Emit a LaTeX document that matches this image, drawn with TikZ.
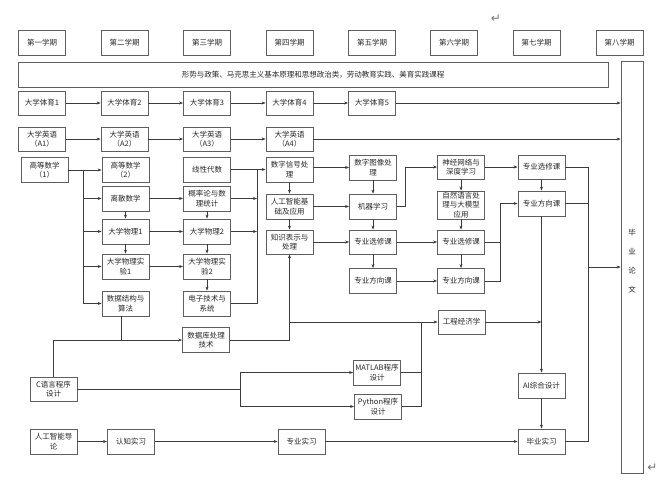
\documentclass[tikz,border=0pt]{standalone}
\usepackage{fontspec}
\newfontfamily\cjk{Noto Sans CJK SC}
\newfontfamily\symb{DejaVu Sans}
\usetikzlibrary{arrows.meta}
\definecolor{boxc}{HTML}{5E5E5E}
\definecolor{linec}{HTML}{3C3C3C}
\begin{document}
\begin{tikzpicture}[x=1pt,y=-1pt,
  box/.style={draw=boxc, line width=0.8pt, align=center, inner sep=0pt,
    minimum width=47pt, minimum height=25pt,
    font=\cjk\fontsize{7.5}{9.5}\selectfont, text=black!85},
  ln/.style={draw=linec, line width=0.6pt},
  ar/.style={ln, -{Stealth[length=4pt,width=3pt]}},
  retmark/.style={font=\symb\fontsize{12}{12}\selectfont, text=black!55, inner sep=0pt},
]
\useasboundingbox (0,0) rectangle (660,483);

% semesters
\node[box] (s1) at (42,42.5) {第一学期};
\node[box] (s2) at (124.5,42.5) {第二学期};
\node[box] (s3) at (207,42.5) {第三学期};
\node[box] (s4) at (289.5,42.5) {第四学期};
\node[box] (s5) at (372,42.5) {第五学期};
\node[box] (s6) at (454,42.5) {第六学期};
\node[box] (s7) at (536.5,42.5) {第七学期};
\node[box] (s8) at (619.5,42.5) {第八学期};

\node[box, minimum width=590pt] (pol) at (313,74.5) {形势与政策、马克思主义基本原理和思想政治类，劳动教育实践、美育实践课程};
\node[box, minimum width=22pt, minimum height=412pt] (thesis) at (632,267) {};
\node[font=\cjk\fontsize{7.5}{19}\selectfont, align=center, inner sep=0pt, text=black!85] (thesistxt) at (632,261) {毕\\业\\论\\文};

% PE
\node[box, minimum height=24pt] (pe1) at (42,103) {大学体育1};
\node[box, minimum height=24pt] (pe2) at (124.5,103) {大学体育2};
\node[box, minimum height=24pt] (pe3) at (207,103) {大学体育3};
\node[box, minimum height=24pt] (pe4) at (289.5,103) {大学体育4};
\node[box, minimum height=24pt] (pe5) at (372,103) {大学体育5};
% English
\node[box, minimum height=24pt] (en1) at (42,139) {大学英语\\（A1）};
\node[box, minimum height=24pt] (en2) at (124.5,139) {大学英语\\（A2）};
\node[box, minimum height=24pt] (en3) at (207,139) {大学英语\\（A3）};
\node[box, minimum height=24pt] (en4) at (289.5,139) {大学英语\\（A4）};

% column 1-2
\node[box] (m1) at (44.5,170) {高等数学\\（1）};
\node[box] (m2) at (125.5,170) {高等数学\\（2）};
\node[box] (disc) at (125.5,198.5) {离散数学};
\node[box] (phy1) at (125.5,231.5) {大学物理1};
\node[box] (lab1) at (125.5,266.5) {大学物理实\\验1};
\node[box] (ds) at (125.5,303.5) {数据结构与\\算法};
% column 3
\node[box] (la) at (207,169.5) {线性代数};
\node[box] (prob) at (207,198.5) {概率论与数\\理统计};
\node[box] (phy2) at (207,231.5) {大学物理2};
\node[box] (lab2) at (207,266.5) {大学物理实\\验2};
\node[box] (elec) at (207,303.5) {电子技术与\\系统};
% column 4
\node[box] (dsp) at (289.5,169.5) {数字信号处\\理};
\node[box] (aifund) at (289.5,206.5) {人工智能基\\础及应用};
\node[box, minimum height=24pt] (kr) at (289.5,242) {知识表示与\\处理};
% column 5
\node[box] (dip) at (373,167.5) {数字图像处\\理};
\node[box] (ml) at (373,206.5) {机器学习};
\node[box, minimum height=24pt] (el5) at (373,242) {专业选修课};
\node[box] (dir5) at (373,281) {专业方向课};
% column 6
\node[box, minimum height=24pt] (nn) at (461,167) {神经网络与\\深度学习};
\node[box, minimum height=28pt] (nlp) at (461,205) {自然语言处\\理与大模型\\应用};
\node[box, minimum height=24pt] (el6) at (461,242) {专业选修课};
\node[box] (dir6) at (461,281) {专业方向课};
% column 7
\node[box, minimum height=24pt] (el7) at (541.5,167) {专业选修课};
\node[box] (dir7) at (541.5,203.5) {专业方向课};

% lower part
\node[box] (db) at (206,340) {数据库处理\\技术};
\node[box, minimum height=24pt] (econ) at (461.5,322) {工程经济学};
\node[box, minimum height=24pt] (C) at (53.5,389) {C语言程序\\设计};
\node[box] (matlab) at (377,372.5) {MATLAB程序\\设计};
\node[box] (python) at (378,406.5) {Python程序\\设计};
\node[box] (aidesign) at (541.5,385.5) {AI综合设计};
\node[box] (intro) at (53.5,441.5) {人工智能导\\论};
\node[box] (cog) at (131,441.5) {认知实习};
\node[box] (prof) at (301.5,441.5) {专业实习};
\node[box] (grad) at (541.5,441.5) {毕业实习};

% paragraph marks
\node[retmark] (ret1) at (496,18.5) {↵};
\node[retmark] (ret2) at (652.5,468) {↵};

% PE and English rows
\draw[ar] (pe1) -- (pe2);
\draw[ar] (pe2) -- (pe3);
\draw[ar] (pe3) -- (pe4);
\draw[ar] (pe4) -- (pe5);
\draw[ar] (pe5) -- (thesis.west |- pe5);
\draw[ar] (en1) -- (en2);
\draw[ar] (en2) -- (en3);
\draw[ar] (en3) -- (en4);
\draw[ar] (en4) -- (thesis.west |- en4);

% maths fan-out
\coordinate (j1) at (83,170);
\coordinate (j2) at (83,303.5);
\draw[ar] (m1) -- (m2);
\draw[ln] (j1) -- (j2);
\draw[ar] (j1 |- disc) -- (disc);
\draw[ar] (j1 |- phy1) -- (phy1);
\draw[ar] (j1 |- lab1) -- (lab1);
\draw[ar] (j2) -- (ds);
\draw[ar] (disc) -- (phy1);
\draw[ar] (phy1) -- (lab1);
\draw[ar] (disc) -- (prob);
\draw[ar] (phy1) -- (phy2);
\draw[ar] (lab1) -- (lab2);
\draw[ar] (prob) -- (phy2);
\draw[ar] (phy2) -- (lab2);
\draw[ar] (lab2) -- (elec);

% column 3 -> 4
\coordinate (k9) at (257,169.5);
\coordinate (k10) at (257,303.5);
\draw[ar] (la) -- (dsp);
\draw[ln] (k9) -- (k10) -- (elec);
\draw[ar] (prob) -- (prob -| k9);
\draw[ar] (phy2) -- (phy2 -| k9);

% column 4
\draw[ar] (dsp) -- (aifund);
\draw[ar] (aifund) -- (kr);
\draw[ar] (dsp.east |- dip) -- (dip);
\draw[ar] (aifund) -- (ml);
\draw[ar] (kr) -- (el5);

% column 5
\draw[ar] (dip) -- (ml);
\draw[ar] (ml) -- (el5);
\draw[ar] (el5) -- (dir5);
\coordinate (k11) at (405,206.5);
\draw[ar] (ml) -- (k11) -- (k11 |- nn) -- (nn);
\draw[ar] (el5) -- (el6);
\draw[ar] (dir5) -- (dir6);

% column 6
\draw[ar] (nn) -- (nlp);
\draw[ar] (nlp) -- (el6);
\draw[ar] (el6) -- (dir6);
\draw[ar] (nn) -- (el7);
\coordinate (k12) at (500,281);
\draw[ln] (el6) -- (el6 -| k12);
\draw[ar] (dir6) -- (k12) -- (k12 |- dir7) -- (dir7);

% column 7
\draw[ar] (el7) -- (dir7);
\coordinate (k13) at (588,167);
\coordinate (k14) at (588,441.5);
\coordinate (k15) at (588,267);
\draw[ln] (el7) -- (k13) -- (k14) -- (grad);
\draw[ln] (dir7) -- (dir7 -| k13);
\draw[ar] (k15) -- (k15 -| thesis.west);
\draw[ar] (dir7) -- (aidesign);
\draw[ar] (econ) -- (econ -| aidesign);
\draw[ar] (aidesign) -- (grad);

% programming / database
\coordinate (k0) at (53.5,340);
\coordinate (k1) at (121,340);
\draw[ln] (ds.south -| k1) -- (k1);
\draw[ar] (C) -- (k0) -- (db);
\coordinate (k2) at (289.5,340);
\coordinate (k3) at (289.5,322);
\draw[ar] (db) -- (k2) -- (kr);
\draw[ar] (k3) -- (econ);
\coordinate (k4) at (421,322);
\coordinate (k5) at (421,406.5);
\draw[ln] (matlab) -- (matlab -| k4);
\draw[ln] (python) -- (k5) -- (k4);
\coordinate (k6) at (240,389);
\coordinate (k7) at (240,372.5);
\coordinate (k8) at (240,406.5);
\draw[ln] (C) -- (k6);
\draw[ln] (k7) -- (k8);
\draw[ar] (k7) -- (matlab);
\draw[ar] (k8) -- (python);

% practice row
\draw[ar] (intro) -- (cog);
\draw[ar] (cog) -- (prof);
\draw[ar] (prof) -- (grad);
\end{tikzpicture}
\end{document}
